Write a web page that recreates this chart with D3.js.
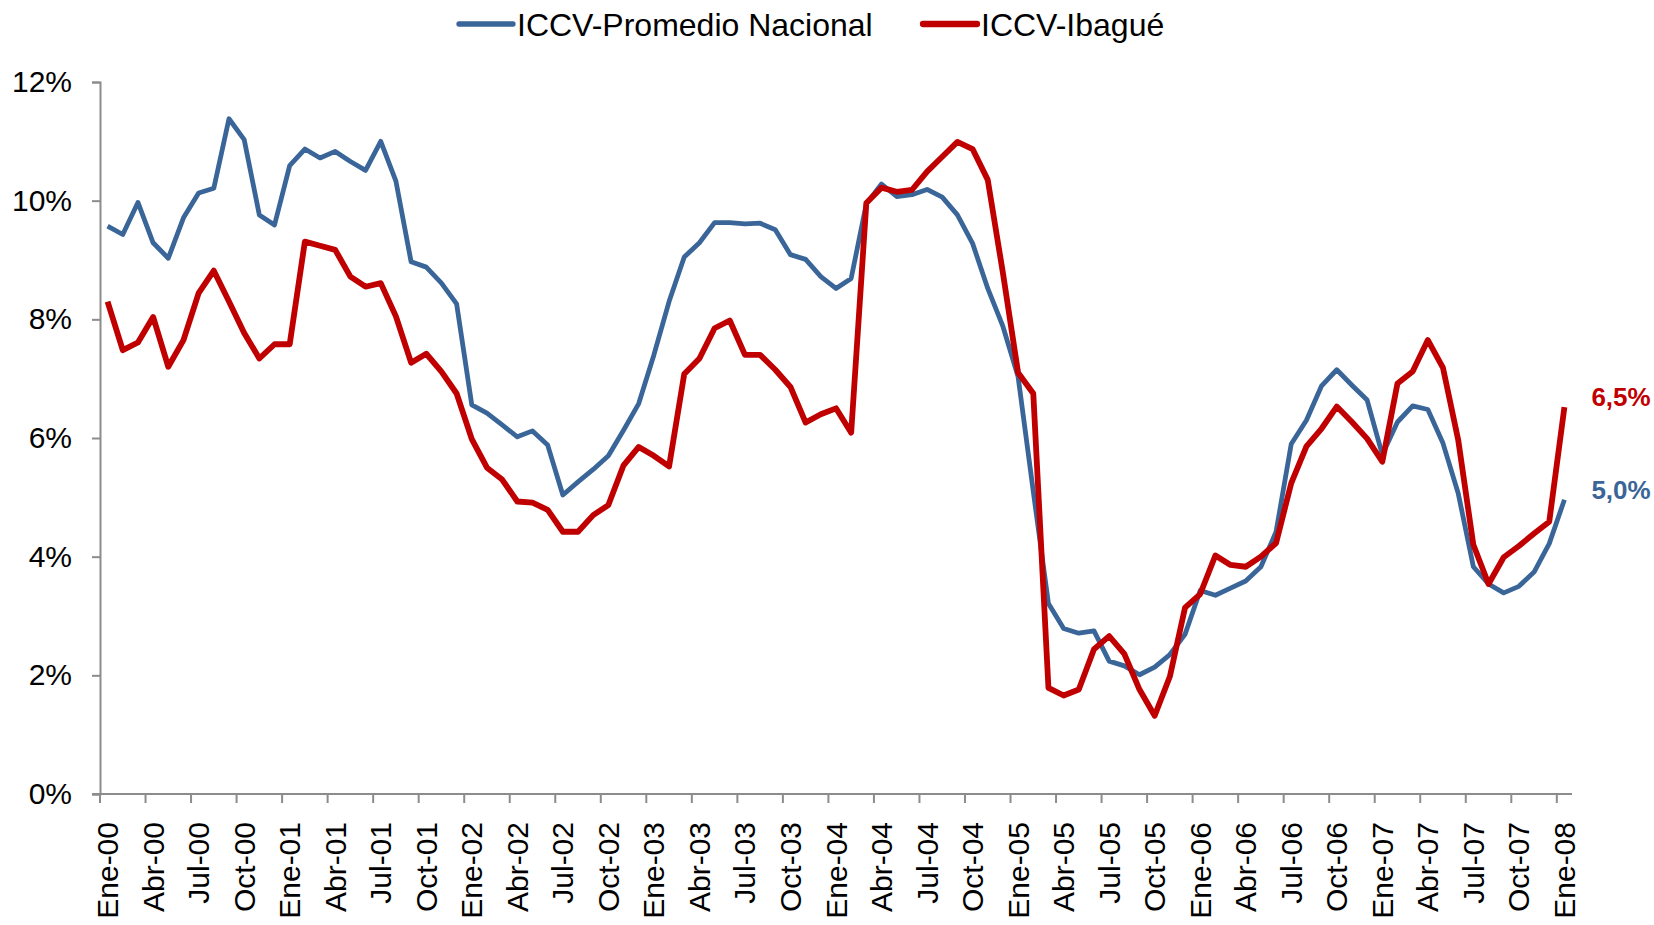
<!DOCTYPE html>
<html>
<head>
<meta charset="utf-8">
<script src="https://cdn.jsdelivr.net/npm/d3@7"></script>
<style>
	body { margin: 0; background: #fff; }
	text { font-family: "Liberation Sans", Arial, sans-serif; }
</style>
</head>
<body>
<div id="chart"></div>
<script>
// monthly categories, Ene-00 .. Ene-08
var monthNames = ['Ene', 'Feb', 'Mar', 'Abr', 'May', 'Jun', 'Jul', 'Ago', 'Sep', 'Oct', 'Nov', 'Dic'];
var years = ['00', '01', '02', '03', '04', '05', '06', '07', '08'];
var yTicks = [0, 2, 4, 6, 8, 10, 12];

// ICCV annual variation (%)
var nacional = [
	9.57, 9.43, 9.97, 9.29, 9.03, 9.71, 10.13, 10.21, 11.38, 11.03, 9.76, 9.59,
	10.59, 10.87, 10.72, 10.83, 10.66, 10.51, 11.00, 10.33, 8.97, 8.88, 8.61, 8.26,
	6.56, 6.42, 6.22, 6.02, 6.12, 5.88, 5.04, 5.26, 5.47, 5.70, 6.13, 6.58,
	7.40, 8.30, 9.05, 9.29, 9.63, 9.63, 9.61, 9.62, 9.51, 9.09, 9.01, 8.72,
	8.52, 8.69, 9.95, 10.28, 10.07, 10.10, 10.19, 10.06, 9.76, 9.28, 8.52, 7.88,
	7.03, 5.10, 3.21, 2.79, 2.71, 2.75, 2.24, 2.16, 2.01, 2.14, 2.35, 2.69,
	3.43, 3.35, 3.47, 3.59, 3.83, 4.42, 5.90, 6.30, 6.88, 7.15, 6.89, 6.64,
	5.72, 6.27, 6.54, 6.48, 5.91, 5.07, 3.83, 3.54, 3.39, 3.50, 3.74, 4.22,
	4.96
];
var ibague = [
	8.30, 7.48, 7.61, 8.04, 7.20, 7.65, 8.44, 8.82, 8.30, 7.77, 7.34, 7.58,
	7.58, 9.31, 9.24, 9.17, 8.72, 8.55, 8.61, 8.05, 7.27, 7.42, 7.12, 6.75,
	5.98, 5.50, 5.30, 4.93, 4.91, 4.79, 4.42, 4.42, 4.70, 4.87, 5.54, 5.85,
	5.70, 5.52, 7.08, 7.34, 7.85, 7.98, 7.40, 7.40, 7.15, 6.86, 6.26, 6.40,
	6.50, 6.09, 9.96, 10.22, 10.15, 10.18, 10.49, 10.74, 10.99, 10.87, 10.35, 8.78,
	7.10, 6.75, 1.79, 1.66, 1.76, 2.44, 2.66, 2.36, 1.76, 1.32, 1.98, 3.14,
	3.37, 4.02, 3.86, 3.83, 4.00, 4.23, 5.24, 5.86, 6.16, 6.53, 6.27, 5.99,
	5.60, 6.92, 7.12, 7.65, 7.18, 5.97, 4.20, 3.54, 3.99, 4.18, 4.39, 4.59,
	6.52
];

var seriesNames = ['ICCV-Promedio Nacional', 'ICCV-Ibagué'];
var endLabels = ['5,0%', '6,5%'];

// build the category list
var categories = [];
years.forEach(function(y) {
	monthNames.forEach(function(m) {
		categories.push(m + '-' + y);
	});
});
categories = categories.slice(0, nacional.length);

var width = 1654, height = 925;
var margin = { top: 82, right: 82, bottom: 131, left: 100 };

var svg = d3.select('#chart').append('svg')
	.attr('width', width).attr('height', height);

// categories sit in bands, the line points are in the middle of each band
var x = d3.scaleBand()
	.domain(categories)
	.range([margin.left, width - margin.right])
	.padding(0);
var xc = function(d) { return x(d) + x.bandwidth() / 2; };

var y = d3.scaleLinear()
	.domain([0, 12])
	.range([height - margin.bottom, margin.top]);

var axisColor = '#8c8c8c';

// y axis
var yAxis = d3.axisLeft(y)
	.tickValues(yTicks)
	.tickSize(8)
	.tickPadding(20)
	.tickFormat(function(d) { return d + '%'; });

var yg = svg.append('g')
	.attr('transform', `translate(${margin.left},0)`)
	.call(yAxis);
yg.select('.domain').attr('stroke', axisColor).attr('stroke-width', 2);
yg.selectAll('.tick line').attr('stroke', axisColor).attr('stroke-width', 2);
yg.selectAll('.tick text')
	.attr('font-size', 30)
	.attr('fill', '#000')
	.style('font-family', '"Liberation Sans", Arial, sans-serif');

// x axis: ticks on band edges every 3 months, labels centred on the band
var y0 = y(0);
var xg = svg.append('g');
xg.append('line')
	.attr('x1', margin.left - 8).attr('x2', width - margin.right)
	.attr('y1', y0).attr('y2', y0)
	.attr('stroke', axisColor).attr('stroke-width', 2);

var every3 = categories.filter(function(d, i) { return i % 3 === 0; });

xg.selectAll('line.tick')
	.data(every3)
	.enter().append('line')
	.attr('class', 'tick')
	.attr('x1', function(d) { return x(d); })
	.attr('x2', function(d) { return x(d); })
	.attr('y1', y0).attr('y2', y0 + 9)
	.attr('stroke', axisColor).attr('stroke-width', 2);

xg.selectAll('text')
	.data(every3)
	.enter().append('text')
	.text(function(d) { return d; })
	.attr('font-size', 30)
	.attr('text-anchor', 'end')
	.attr('dominant-baseline', 'central')
	.attr('transform', function(d) { return `translate(${xc(d)},${y0 + 28})rotate(-90)`; });

// lines
var line = function(values) {
	return d3.line()
		.x(function(d, i) { return xc(categories[i]); })
		.y(function(d) { return y(d); })(values);
};

var colors = ['#3a6598', '#c00000'];
var widths = [4.8, 5.8];
var allSeries = [nacional, ibague];

allSeries.forEach(function(values, k) {
	svg.append('path')
		.attr('d', line(values))
		.attr('fill', 'none')
		.attr('stroke', colors[k])
		.attr('stroke-width', widths[k])
		.attr('stroke-linejoin', 'round');
});

// last value labels
var lastCat = categories[categories.length - 1];
allSeries.forEach(function(values, k) {
	svg.append('text')
		.text(endLabels[k])
		.attr('x', xc(lastCat) + 27)
		.attr('y', y(values[values.length - 1]) - 10)
		.attr('font-size', 26)
		.attr('font-weight', 'bold')
		.attr('fill', colors[k])
		.attr('dominant-baseline', 'central');
});

// legend
var legendX = [459, 923];
var legend = svg.append('g');
seriesNames.forEach(function(name, k) {
	legend.append('line')
		.attr('x1', legendX[k]).attr('x2', legendX[k] + 54)
		.attr('y1', 24).attr('y2', 24)
		.attr('stroke', colors[k])
		.attr('stroke-width', widths[k] + 0.5)
		.attr('stroke-linecap', 'round');
	legend.append('text')
		.text(name)
		.attr('x', legendX[k] + 58)
		.attr('y', 25)
		.attr('font-size', 32)
		.attr('dominant-baseline', 'central');
});
</script>
</body>
</html>
